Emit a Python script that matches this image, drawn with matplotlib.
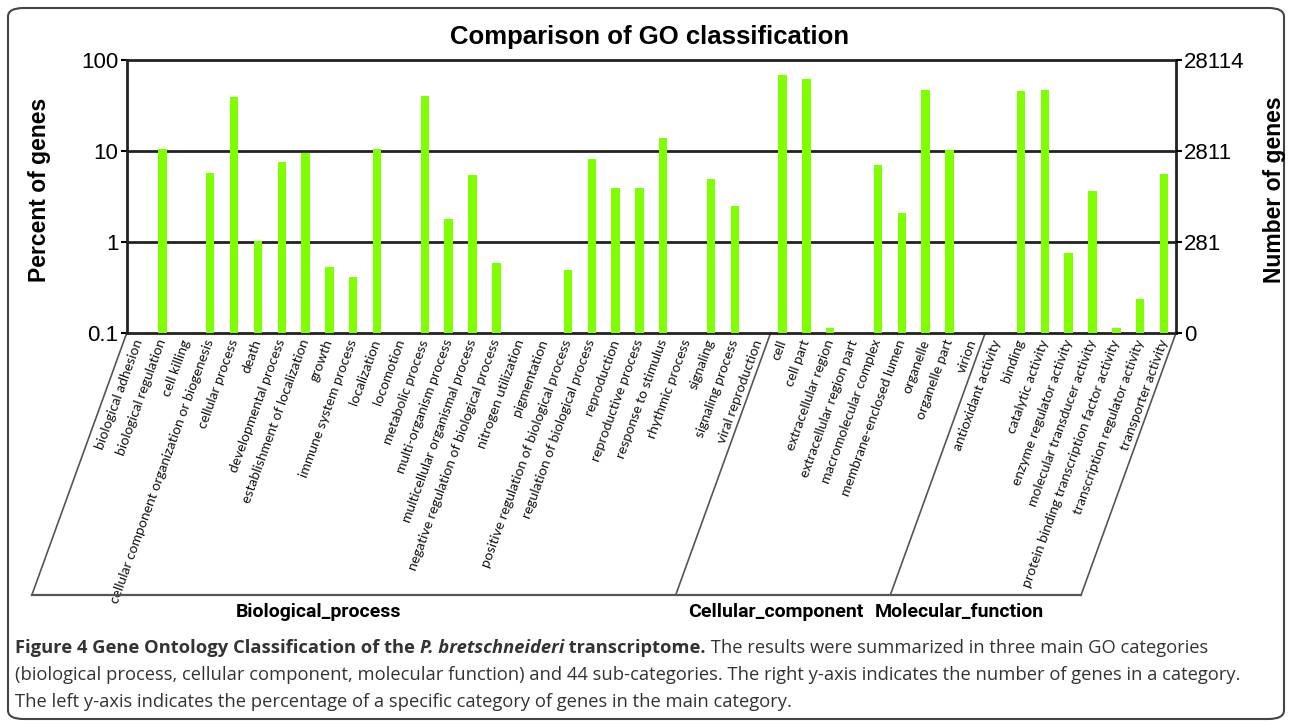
import numpy as np
import matplotlib
matplotlib.use('Agg')
import matplotlib.pyplot as plt
from matplotlib.patches import FancyBboxPatch
import matplotlib.transforms as mtransforms

plt.rcParams['font.family'] = ['Liberation Sans', 'DejaVu Sans']

# GO terms and percent of genes per term (0 = no genes)
bp_terms = ['biological adhesion', 'biological regulation', 'cell killing',
            'cellular component organization or biogenesis', 'cellular process', 'death',
            'developmental process', 'establishment of localization', 'growth',
            'immune system process', 'localization', 'locomotion', 'metabolic process',
            'multi-organism process', 'multicellular organismal process',
            'negative regulation of biological process', 'nitrogen utilization',
            'pigmentation', 'positive regulation of biological process',
            'regulation of biological process', 'reproduction', 'reproductive process',
            'response to stimulus', 'rhythmic process', 'signaling', 'signaling process',
            'viral reproduction']
bp_values = [0, 10.4, 0, 5.8, 39, 1.02, 7.6, 9.4, 0.53, 0.41, 10.6, 0, 40.5, 1.78, 5.5,
             0.58, 0, 0, 0.49, 8.1, 3.9, 3.9, 13.8, 0, 4.9, 2.5, 0]

cc_terms = ['cell', 'cell part', 'extracellular region', 'extracellular region part',
            'macromolecular complex', 'membrane-enclosed lumen', 'organelle',
            'organelle part', 'virion']
cc_values = [68, 62, 0.113, 0, 7.1, 2.1, 47, 10.3, 0]

mf_terms = ['antioxidant activity', 'binding', 'catalytic activity',
            'enzyme regulator activity', 'molecular transducer activity',
            'protein binding transcription factor activity',
            'transcription regulator activity', 'transporter activity']
mf_values = [0, 45.7, 47, 0.76, 3.6, 0.113, 0.236, 5.6]

groups = ['Biological_process', 'Cellular_component', 'Molecular_function']
right_ticks = ['0', '281', '2811', '28114']

terms = bp_terms + cc_terms + mf_terms
values = np.array(bp_values + cc_values + mf_values, dtype=float)
x = np.arange(len(terms))

fig = plt.figure(figsize=(12.92, 7.27), dpi=100)
ax = fig.add_axes([0.0981, 0.542, 0.8121, 0.3755])

ymin = 0.1
ax.set_yscale('log')
ax.set_ylim(ymin, 100)
ax.set_xlim(-0.5, len(terms) - 0.5)

heights = np.where(values > ymin, values - ymin, 0)
ax.bar(x, heights, bottom=ymin, width=0.35, color='#7fff00', zorder=3)

for yv in [1, 10]:
    ax.axhline(yv, color='#222222', lw=2, zorder=1)

for s in ax.spines.values():
    s.set_color('#222222')
    s.set_linewidth(2)

ax.set_yticks([0.1, 1, 10, 100])
ax.set_yticklabels(['0.1', '1', '10', '100'], fontsize=16)
ax.yaxis.set_minor_locator(matplotlib.ticker.NullLocator())
ax.tick_params(axis='y', length=4, width=1.5, pad=2)

ax.set_xticks(x)
ax.set_xticklabels(terms, rotation=70, ha='right', va='center', rotation_mode='anchor',
                   fontsize=10, family=['Lato', 'DejaVu Sans'], color='#111111')
ax.tick_params(axis='x', length=0, pad=5)

ax2 = ax.twinx()
ax2.set_yscale('log')
ax2.set_ylim(ymin, 100)
ax2.set_yticks([0.1, 1, 10, 100])
ax2.set_yticklabels(right_ticks, fontsize=16)
ax2.yaxis.set_minor_locator(matplotlib.ticker.NullLocator())
ax2.tick_params(axis='y', length=4, width=1.5, pad=2)
for s in ax2.spines.values():
    s.set_visible(False)

# slanted frame under the category labels
trans = mtransforms.blended_transform_factory(ax.transData, ax.transAxes)
slant_dx = -3.98
slant_dy = -0.96
n1 = len(bp_terms)
n2 = n1 + len(cc_terms)
n = len(terms)
for xb in [-0.5, n1 - 0.5, n2 - 0.5, n - 0.5]:
    ax.plot([xb, xb + slant_dx], [0, slant_dy], color='#555555', lw=1.2,
            transform=trans, clip_on=False)
ax.plot([-0.5 + slant_dx, n - 0.5 + slant_dx], [slant_dy, slant_dy], color='#555555',
        lw=1.6, transform=trans, clip_on=False)

for gx, g in zip([7.56, 26.7, 34.4], groups):
    ax.text(gx, -1.022, g, transform=trans, ha='center', va='center',
            fontsize=14, fontweight='bold', family=['Roboto', 'DejaVu Sans'])

fig.text(0.503, 0.949, 'Comparison of GO classification', ha='center', va='center',
         fontsize=18.5, fontweight='bold')
fig.text(40 / 1292, 1 - 190 / 727, 'Percent of genes', rotation=90, ha='center',
         va='center', fontsize=16.5, fontweight='bold')
fig.text(1275 / 1292, 1 - 190 / 727, 'Number of genes', rotation=90, ha='center',
         va='center', fontsize=16.5, fontweight='bold')

# caption with mixed styles
cap_font = ['Open Sans', 'DejaVu Sans']
cap_size = 13.2
lines = [
    [('Figure 4 Gene Ontology Classification of the ', 'bold', 'normal'),
     ('P. bretschneideri', 'bold', 'italic'),
     (' transcriptome.', 'bold', 'normal'),
     (' The results were summarized in three main GO categories', 'normal', 'normal')],
    [('(biological process, cellular component, molecular function) and 44 sub-categories. '
      'The right y-axis indicates the number of genes in a category.', 'normal', 'normal')],
    [('The left y-axis indicates the percentage of a specific category of genes in the main '
      'category.', 'normal', 'normal')],
]
renderer = fig.canvas.get_renderer()
for i, parts in enumerate(lines):
    xpos = 15 / 1292
    ypos = 1 - (648 + i * 27) / 727
    for txt, wt, st in parts:
        t = fig.text(xpos, ypos, txt, ha='left', va='center', fontsize=cap_size,
                     fontweight=wt, fontstyle=st, family=cap_font, color='#333333')
        bb = t.get_window_extent(renderer=renderer)
        xpos = bb.x1 / fig.bbox.width

frame = FancyBboxPatch((8 / 1292, 8 / 727), 1 - 16 / 1292, 1 - 16 / 727,
                       boxstyle='round,pad=0,rounding_size=0.012',
                       transform=fig.transFigure, fill=False, ec='#444444', lw=1.5)
fig.patches.append(frame)

fig.savefig('out.png', dpi=100)
